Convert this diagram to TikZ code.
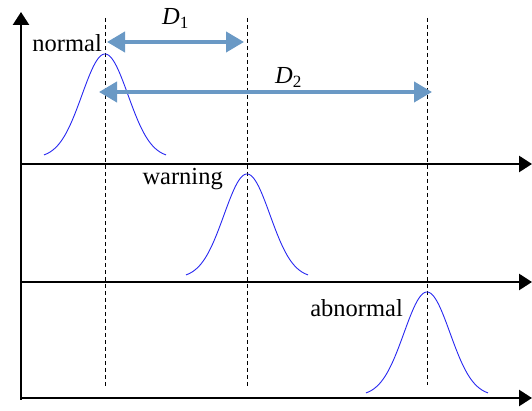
\documentclass[tikz,border=0pt]{standalone}
\usepackage{fontspec}
\setmainfont{Liberation Serif}
\usetikzlibrary{arrows.meta, positioning}
\definecolor{bellblue}{RGB}{40,40,240}
\definecolor{gapblue}{RGB}{106,153,197}

\begin{document}
\begin{tikzpicture}[
  x=1pt, y=1pt,
  font=\fontsize{24.5}{28}\selectfont,
  axis/.style={line width=2.6pt, -{Triangle[length=13pt, width=16pt]}},
  guide/.style={line width=0.9pt, dash pattern=on 4pt off 3pt},
  bell/.style={bellblue, line width=0.9pt},
  dist/.style={gapblue, line width=4pt,
               {Triangle[length=18pt, width=20pt]}-{Triangle[length=18pt, width=20pt]}},
  state/.style={inner sep=0pt, anchor=base east},
  dlabel/.style={inner sep=0pt, anchor=base west}
]
  \useasboundingbox (0,0) rectangle (532,411);

  % ── Axes ────────────────────────────────────────────────────────────────────
  \coordinate (origin) at (21,11);
  \coordinate (ytop)   at (21,399);
  \coordinate (row1l)  at (21,247);  \coordinate (row1r) at (532,247);
  \coordinate (row2l)  at (21,129);  \coordinate (row2r) at (532,129);
  \coordinate (row3l)  at (20,13);   \coordinate (row3r) at (532,13);

  \draw[axis] (origin) -- (ytop);
  \draw[axis] (row1l) -- (row1r);
  \draw[axis] (row2l) -- (row2r);
  \draw[axis] (row3l) -- (row3r);

  % ── Guide lines ─────────────────────────────────────────────────────────────
  \coordinate (g1top) at (105,393);  \coordinate (g1bot) at (105,23);
  \coordinate (g2top) at (247,393);  \coordinate (g2bot) at (247,23);
  \coordinate (g3top) at (427,393);  \coordinate (g3bot) at (427,26);

  \draw[guide] (g1top) -- (g1bot);
  \draw[guide] (g2top) -- (g2bot);
  \draw[guide] (g3top) -- (g3bot);

  % ── Bell curves ─────────────────────────────────────────────────────────────
  \foreach \cx/\by in {105/253, 247/133, 427/15}
    \draw[bell] plot[domain=-61:61, samples=80, smooth]
      ({\cx+\x}, {\by+104*exp(-(\x*\x)/1058)});

  % ── States ──────────────────────────────────────────────────────────────────
  \node[state] (normal)   at (102,359) {normal};
  \node[state] (warning)  at (223,226) {warning};
  \node[state] (abnormal) at (403,94)  {abnormal};

  % ── Distances ───────────────────────────────────────────────────────────────
  \coordinate (d1a) at (107,369);  \coordinate (d1b) at (244,369);
  \coordinate (d2a) at (99,319);   \coordinate (d2b) at (432,319);

  \draw[dist] (d1a) -- (d1b);
  \draw[dist] (d2a) -- (d2b);

  \node[dlabel] (dist1) at (162,386) {\textit{D}\textsubscript{1}};
  \node[dlabel] (dist2) at (275,327) {\textit{D}\textsubscript{2}};
\end{tikzpicture}
\end{document}
